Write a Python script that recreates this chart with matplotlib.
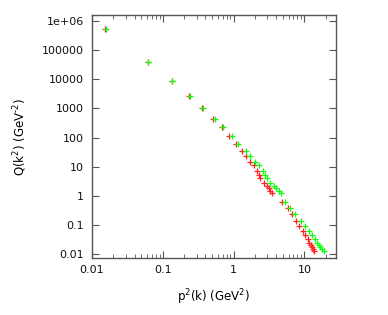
import matplotlib
matplotlib.use("Agg")
import matplotlib.pyplot as plt
from matplotlib.ticker import LogLocator, FixedLocator, NullFormatter

# Q(k^2) values, shared by both series
q_vals = [561000, 39900, 8670, 2650, 1000, 429, 222, 115, 59.3, 34.9,
          23.0, 14.6, 11.3, 7.18, 5.11, 3.94, 2.78, 2.14, 1.78, 1.47,
          1.26, 0.617, 0.366, 0.228, 0.137, 0.0925, 0.0622, 0.0443, 0.0315, 0.0241,
          0.0200, 0.0167, 0.0143, 0.0128]

# momentum squared, green series
k2_green = [0.0157, 0.0621, 0.137, 0.240, 0.374, 0.540, 0.716, 0.953, 1.164, 1.476,
            1.680, 1.995, 2.27, 2.59, 2.82, 2.98, 3.32, 3.70, 4.03, 4.35,
            4.70, 5.40, 6.21, 7.47, 9.07, 10.33, 11.5, 12.8, 14.0, 15.1,
            15.9, 16.8, 17.8, 18.7]

# lattice momentum squared, red series
p2_red = [0.0155, 0.0611, 0.135, 0.232, 0.360, 0.514, 0.678, 0.859, 1.067, 1.296,
          1.51, 1.68, 1.93, 2.16, 2.29, 2.40, 2.67, 2.92, 3.14, 3.32,
          3.51, 4.85, 5.82, 6.71, 7.64, 8.51, 9.47, 10.3, 11.1, 11.7,
          12.4, 12.8, 13.3, 13.7]

y_ticks = [0.01, 0.1, 1, 10, 100, 1000, 10000, 100000, 1000000]
y_labels = ["0.01", "0.1", "1", "10", "100", "1000", "10000", "100000", "1e+06"]
x_ticks = [0.01, 0.1, 1, 10]
x_labels = ["0.01", "0.1", "1", "10"]

plt.rcParams['font.family'] = ['DejaVu Sans']
fig = plt.figure(figsize=(3.88, 3.15), dpi=100)
ax = fig.add_axes([0.237, 0.181, 0.629, 0.771])

ax.plot(p2_red, q_vals, ls='none', marker='+', ms=4.5, mew=0.9, color='#ff2020')
ax.plot(k2_green, q_vals, ls='none', marker='+', ms=4.5, mew=0.9, color='#10ff10')

ax.set_xscale('log')
ax.set_yscale('log')
ax.set_xlim(0.01, 28)
ax.set_ylim(10 ** -2.14, 10 ** 6.21)

ax.xaxis.set_major_locator(FixedLocator(x_ticks))
ax.set_xticklabels(x_labels)
ax.xaxis.set_minor_locator(LogLocator(base=10, subs=range(2, 10)))
ax.xaxis.set_minor_formatter(NullFormatter())
ax.yaxis.set_major_locator(FixedLocator(y_ticks))
ax.set_yticklabels(y_labels)
ax.yaxis.set_minor_locator(FixedLocator([]))

ax.tick_params(which='both', direction='in', top=True, right=True,
               labelsize=8, color='#555555', labelcolor='#111111')
ax.tick_params(axis='y', pad=6)
ax.tick_params(axis='x', pad=5)
ax.tick_params(which='major', length=5, width=0.8)
ax.tick_params(which='minor', length=3, width=0.6)
for s in ax.spines.values():
    s.set_color('#555555')
    s.set_linewidth(1.0)

ax.set_xlabel(r'p$^2$(k) (GeV$^2$)', fontsize=8.5, labelpad=9)
ax.set_ylabel(r'Q(k$^2$) (GeV$^{\text{-2}}$)', fontsize=8.5, labelpad=9)

fig.savefig('out.png', dpi=100)
